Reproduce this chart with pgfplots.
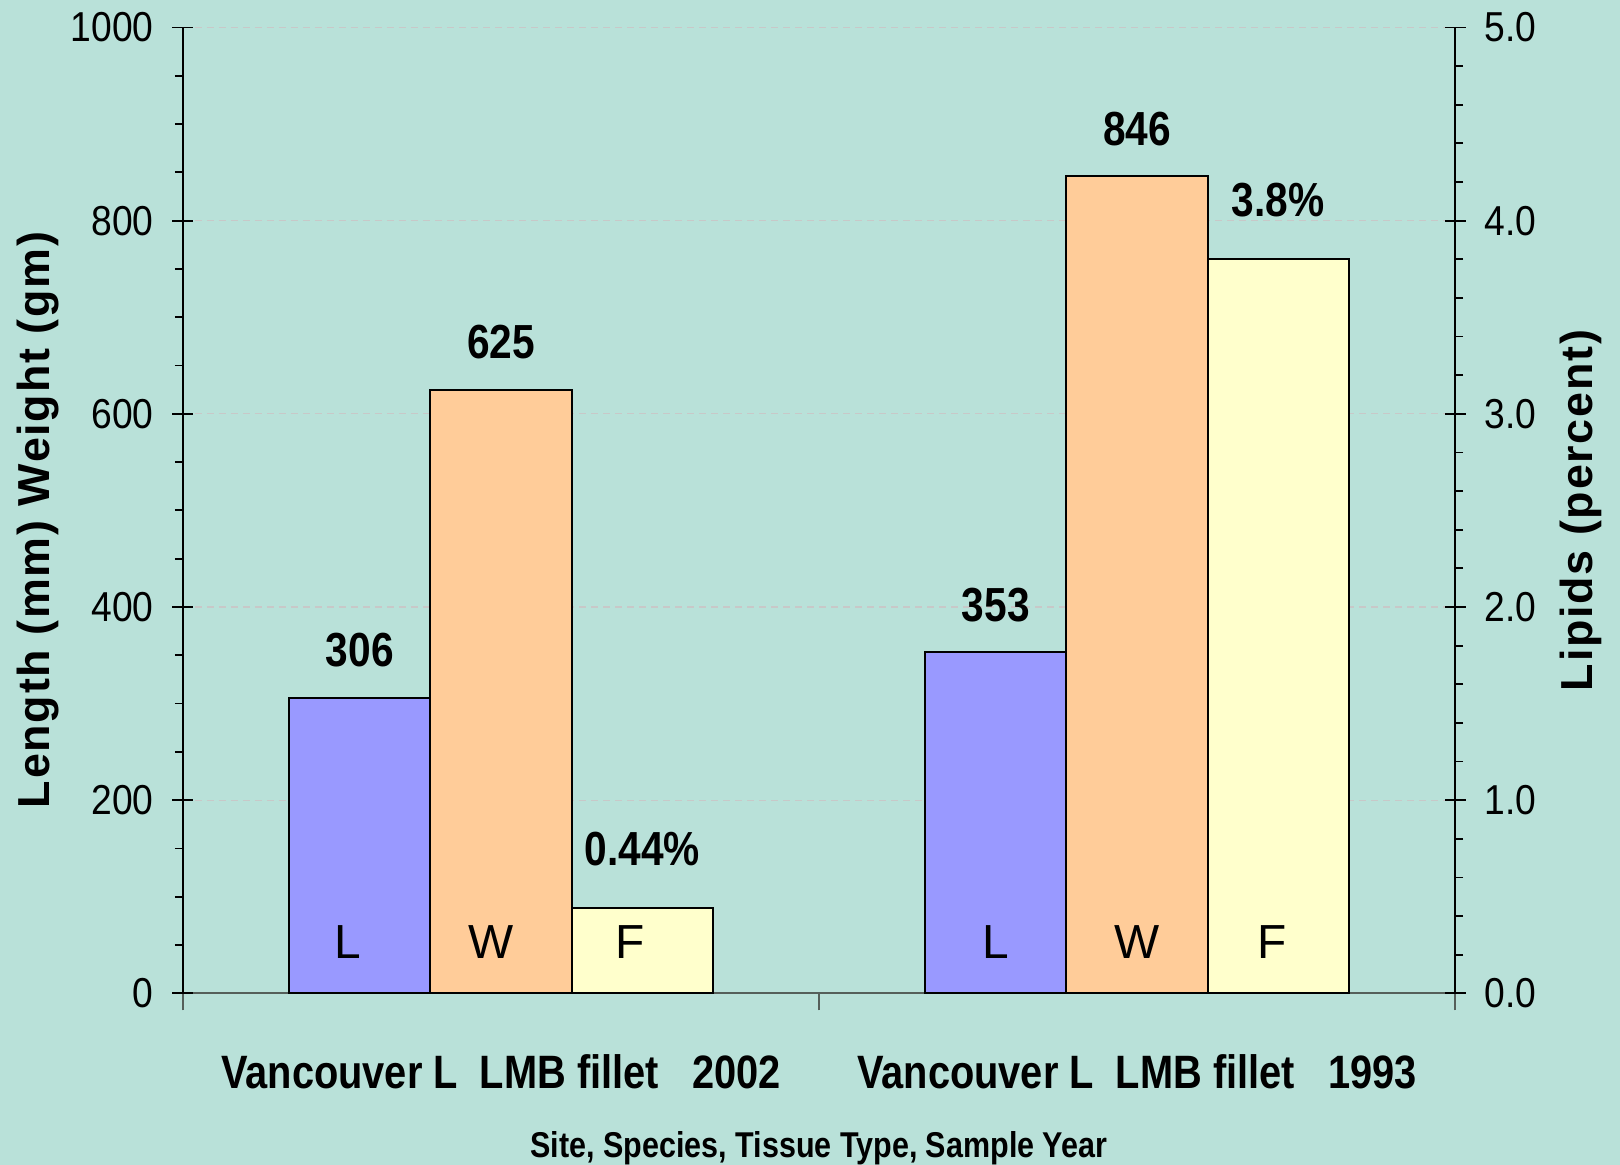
\documentclass[border=0pt]{standalone}
\usepackage{pgfplots}
\pgfplotsset{compat=1.18}
\usepackage{fontspec}
\setmainfont{Liberation Sans}
\newfontfamily\tickfont[FakeStretch=0.89]{Liberation Sans}
\newfontfamily\narrowfont[FakeStretch=0.85]{Liberation Sans}
\newfontfamily\labfont[LetterSpace=4]{Liberation Sans}
\definecolor{bg}{RGB}{185,225,217}
\definecolor{cL}{RGB}{153,153,255}
\definecolor{cW}{RGB}{255,204,153}
\definecolor{cF}{RGB}{255,255,204}
\definecolor{gridc}{RGB}{200,200,200}
\definecolor{xline}{RGB}{85,95,90}

\pgfplotsset{
  base/.style={
    scale only axis, width=636bp, height=482.9bp,
    xmin=-0.5, xmax=1.5, ymin=0, clip=false,
    axis line style={black, line width=0.9bp},
    tick style={black, line width=0.9bp},
    tick align=center, major tick length=10.5bp, minor tick length=4bp,
    tick label style={font=\tickfont\fontsize{21}{21}\selectfont},
    /pgf/number format/assume math mode=true,
    /pgf/number format/1000 sep={},
    ybar, bar width=0.222,
  }
}

\begin{document}
\begin{tikzpicture}
\fill[bg] (-91.5bp,-85.85bp) rectangle (718.5bp,496.65bp);

% x axis line, ticks, category labels
\begin{axis}[base, ymax=1000,
  axis y line=none, axis x line*=bottom, ytick=\empty,
  x axis line style={xline, line width=1bp},
  xtick={-0.5,0.5,1.5}, xticklabels={},
  tick align=outside, major tick length=8.5bp,
  tick style={xline, line width=0.9bp},
  xlabel={Site, Species, Tissue Type, Sample Year},
  xlabel style={at={(axis description cs:0.5,0)}, anchor=base, yshift=-82bp,
    font=\narrowfont\bfseries\fontsize{18}{18}\selectfont},
]
\node[anchor=base, font=\narrowfont\bfseries\fontsize{23.5}{23.5}\selectfont, yshift=-47.4bp] at (axis cs:0,0) {Vancouver L\ \ LMB fillet\ \ \ 2002};
\node[anchor=base, font=\narrowfont\bfseries\fontsize{23.5}{23.5}\selectfont, yshift=-47.4bp] at (axis cs:1,0) {Vancouver L\ \ LMB fillet\ \ \ 1993};
\end{axis}

% left axis: length and weight
\begin{axis}[base, ymax=1000,
  axis x line=none, axis y line*=left, xtick=\empty,
  ytick={200,400,...,1000}, extra y ticks={0}, extra tick style={grid=none},
  minor ytick={50,100,150,250,300,350,450,500,550,650,700,750,850,900,950},
  minor tick style={xshift=-2bp},
  yticklabel style={xshift=-6bp},
  ymajorgrids, major grid style={dash pattern=on 3.5bp off 2.5bp, gridc, line width=0.6bp},
  ylabel={Length (mm) Weight (gm)},
  ylabel style={at={(axis description cs:-0.114,0.49)}, anchor=center,
    font=\labfont\bfseries\fontsize{22.5}{22.5}\selectfont},
  nodes near coords,
  every node near coord/.append style={anchor=base, yshift=15.5bp, black,
    font=\narrowfont\bfseries\fontsize{24}{24}\selectfont},
]
\addplot[fill=cL, draw=black, line width=1bp, bar shift=-0.222] coordinates {(0,306) (1,353)};
\addplot[fill=cW, draw=black, line width=1bp, bar shift=0] coordinates {(0,625) (1,846)};
\node[anchor=base, font=\fontsize{24}{24}\selectfont, yshift=17.5bp, xshift=-6bp] at (axis cs:-0.222,0) {L};
\node[anchor=base, font=\fontsize{24}{24}\selectfont, yshift=17.5bp, xshift=-5bp] at (axis cs:0,0) {W};
\node[anchor=base, font=\fontsize{24}{24}\selectfont, yshift=17.5bp] at (axis cs:0.778,0) {L};
\node[anchor=base, font=\fontsize{24}{24}\selectfont, yshift=17.5bp] at (axis cs:1,0) {W};
\end{axis}

% right axis: lipids
\begin{axis}[base, ymax=5,
  axis x line=none, axis y line*=right, xtick=\empty,
  ytick={0,1,...,5}, minor y tick num=4,
  minor tick style={xshift=2bp},
  yticklabel style={xshift=6bp, /pgf/number format/.cd, fixed, fixed zerofill, precision=1},
  ylabel={Lipids (percent)},
  ylabel style={at={(axis description cs:1.099,0.5)}, anchor=center,
    font=\labfont\bfseries\fontsize{22.5}{22.5}\selectfont},
  nodes near coords={\pgfmathprintnumber{\pgfplotspointmeta}\%},
  every node near coord/.append style={anchor=base, yshift=21.5bp, black,
    font=\narrowfont\bfseries\fontsize{24}{24}\selectfont},
]
\addplot[fill=cF, draw=black, line width=1bp, bar shift=0.222] coordinates {(0,0.44) (1,3.8)};
\node[anchor=base, font=\fontsize{24}{24}\selectfont, yshift=17.5bp, xshift=-6bp] at (axis cs:0.222,0) {F};
\node[anchor=base, font=\fontsize{24}{24}\selectfont, yshift=17.5bp, xshift=-3bp] at (axis cs:1.222,0) {F};
\end{axis}

\pgfresetboundingbox
\path (-91.5bp,-85.85bp) rectangle (718.5bp,496.65bp);
\end{tikzpicture}
\end{document}
